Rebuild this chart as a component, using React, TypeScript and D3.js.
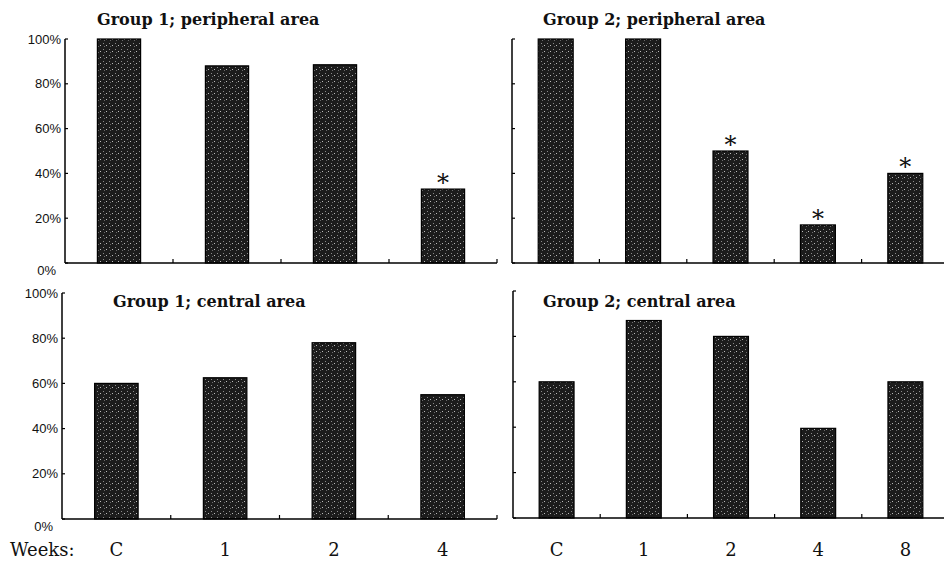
import React from "react";
import * as d3 from "d3";

const categories1 = ["C", "1", "2", "4"];
const categories2 = ["C", "1", "2", "4", "8"];
const g1Peripheral = [100, 88, 88.5, 33];
const g2Peripheral = [100, 100, 50, 17, 40];
const g1Central = [60, 62.5, 78, 55];
const g2Central = [60, 87, 80, 39.5, 60];
const sigG1Peripheral = [false, false, false, true];
const sigG2Peripheral = [false, false, true, true, true];
const sigG1Central = [false, false, false, false];
const sigG2Central = [false, false, false, false, false];
const yTicks = [0, 20, 40, 60, 80, 100];
const titles = [
  "Group 1; peripheral area",
  "Group 2; peripheral area",
  "Group 1; central area",
  "Group 2; central area",
];

const SERIF = "'DejaVu Serif', serif";
const SANS = "'Liberation Sans', Arial, sans-serif";

type PanelProps = {
  x0: number; x1: number; axisEnd: number; yTop: number; yBot: number;
  cats: string[]; vals: number[]; sig: boolean[]; title: string;
  titleX: number; titleY: number; showYLabels: boolean; showXLabels: boolean;
};

function Panel(p: PanelProps) {
  const x = d3.scaleBand<string>().domain(p.cats).range([p.x0, p.x1]).paddingInner(0.6).paddingOuter(0.3);
  const y = d3.scaleLinear().domain([0, 100]).range([p.yBot, p.yTop]);
  const step = x.step();
  const bounds = p.cats.map((_, i) => p.x0 + step * (i + 1));
  return (
    <g>
      <text x={p.titleX} y={p.titleY} fontFamily={SERIF} fontSize={16} fontWeight={600} fill="#111">{p.title}</text>
      {p.cats.map((c, i) => (
        <rect key={c} x={x(c)} y={y(p.vals[i])} width={x.bandwidth()} height={p.yBot - y(p.vals[i])}
          fill="url(#speckle)" stroke="#000" strokeWidth={1.2} />
      ))}
      {p.cats.map((c, i) => p.sig[i] ? (
        <text key={"s" + c} x={(x(c) as number) + x.bandwidth() / 2} y={y(p.vals[i]) + 2} textAnchor="middle"
          fontFamily={SERIF} fontSize={24} fill="#111">*</text>
      ) : null)}
      <line x1={p.x0} x2={p.x0} y1={p.yTop} y2={p.yBot} stroke="#000" strokeWidth={1.5} />
      {yTicks.map(t => (
        <line key={"yt" + t} x1={p.x0} x2={p.x0 + 3} y1={y(t)} y2={y(t)} stroke="#000" strokeWidth={1.2} />
      ))}
      <line x1={p.x0} x2={p.axisEnd} y1={p.yBot} y2={p.yBot} stroke="#000" strokeWidth={1.5} />
      {bounds.map((b, i) => b <= p.axisEnd ? (
        <line key={"xt" + i} x1={b} x2={b} y1={p.yBot} y2={p.yBot - 4} stroke="#000" strokeWidth={1.2} />
      ) : null)}
      {p.showYLabels && yTicks.map(t => (
        <text key={"yl" + t} x={t === 0 ? p.x0 - 9 : p.x0 - 4} y={t === 0 ? y(t) + 12 : y(t) + 4.5}
          textAnchor="end" fontFamily={SANS} fontSize={13} fill="#111">{t + "%"}</text>
      ))}
      {p.showXLabels && p.cats.map(c => (
        <text key={"xl" + c} x={(x(c) as number) + x.bandwidth() / 2} y={556} textAnchor="middle"
          fontFamily={SERIF} fontSize={18} fill="#111">{c}</text>
      ))}
    </g>
  );
}

export default function App() {
  return (
    <div style={{ position: "absolute", left: 0, top: 0 }}>
      <svg width={944} height={561} style={{ display: "block", background: "#fff" }}>
        <defs>
          <pattern id="speckle" width={6} height={6} patternUnits="userSpaceOnUse">
            <rect width={6} height={6} fill="#1c1c1c" />
            <rect x={1} y={1} width={1} height={1} fill="#8a8a8a" />
            <rect x={4} y={3} width={1} height={1} fill="#bbbbbb" />
            <rect x={2} y={4} width={1} height={1} fill="#6a6a6a" />
          </pattern>
        </defs>
        <Panel x0={65} x1={497} axisEnd={497} yTop={39} yBot={263} cats={categories1} vals={g1Peripheral}
          sig={sigG1Peripheral} title={titles[0]} titleX={97} titleY={25} showYLabels showXLabels={false} />
        <Panel x0={512} x1={949} axisEnd={944} yTop={39} yBot={263} cats={categories2} vals={g2Peripheral}
          sig={sigG2Peripheral} title={titles[1]} titleX={543} titleY={25} showYLabels={false} showXLabels={false} />
        <Panel x0={62} x1={497} axisEnd={497} yTop={293} yBot={519} cats={categories1} vals={g1Central}
          sig={sigG1Central} title={titles[2]} titleX={113} titleY={307} showYLabels showXLabels />
        <Panel x0={513} x1={949} axisEnd={944} yTop={291} yBot={518} cats={categories2} vals={g2Central}
          sig={sigG2Central} title={titles[3]} titleX={543} titleY={307} showYLabels={false} showXLabels />
        <text x={10} y={556} fontFamily={SERIF} fontSize={18} fill="#111">Weeks:</text>
      </svg>
    </div>
  );
}
